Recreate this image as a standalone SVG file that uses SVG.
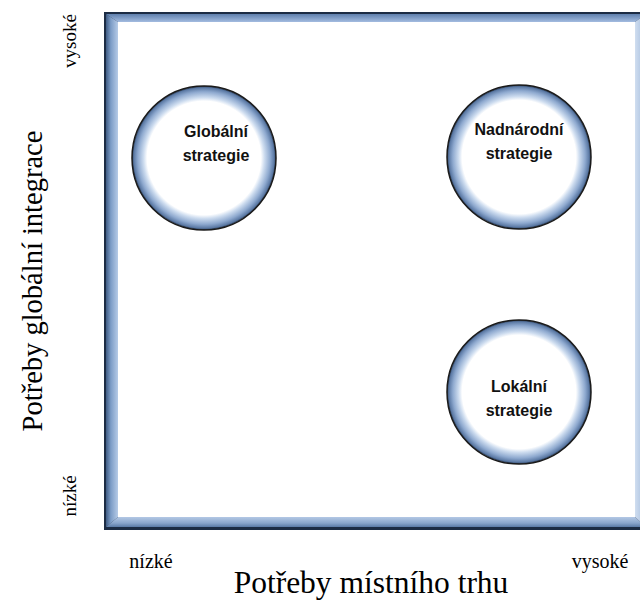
<svg xmlns="http://www.w3.org/2000/svg" width="640" height="600" viewBox="0 0 640 600">
<style>
.ax{font-family:"Liberation Serif","Times New Roman",serif;fill:#000}
.sm{font-size:20px}
.vs{font-size:19px}
.lg{font-size:31.5px}
.vl{font-size:28.5px}
.nl{font-family:"Liberation Sans",Arial,sans-serif;font-weight:bold;font-size:16px;fill:#111;text-anchor:middle}
.ring{fill:url(#ringGrad);stroke:#1a1a1a;stroke-width:1.5}
</style>
<defs>
<radialGradient id="ringGrad" cx="0.5" cy="0.5" r="0.5">
<stop offset="0" stop-color="#ffffff"/>
<stop offset="0.79" stop-color="#ffffff"/>
<stop offset="0.84" stop-color="#cddcef"/>
<stop offset="0.92" stop-color="#8ea9cf"/>
<stop offset="0.975" stop-color="#5b79a4"/>
<stop offset="1" stop-color="#23344e"/>
</radialGradient>
<linearGradient id="gTop" x1="0" y1="0" x2="0" y2="1">
<stop offset="0" stop-color="#5f80ad"/>
<stop offset="1" stop-color="#a3bce0"/>
</linearGradient>
<linearGradient id="gLeft" x1="0" y1="0" x2="1" y2="0">
<stop offset="0" stop-color="#3f5c84"/>
<stop offset="0.4" stop-color="#7c9cc6"/>
<stop offset="1" stop-color="#b6cbe7"/>
</linearGradient>
<linearGradient id="gBot" x1="0" y1="0" x2="0" y2="1">
<stop offset="0" stop-color="#b3c8e5"/>
<stop offset="0.6" stop-color="#8aa6cc"/>
<stop offset="1" stop-color="#5a7aa6"/>
</linearGradient>
<linearGradient id="gRight" x1="0" y1="0" x2="1" y2="0">
<stop offset="0" stop-color="#d0def0"/>
<stop offset="1" stop-color="#9fb8da"/>
</linearGradient>
</defs>
<g id="frame">
<rect x="104" y="12" width="544" height="518" fill="#1c2c44"/>
<polygon points="106,14 646,14 635,22 118,22" fill="url(#gTop)"/>
<polygon points="106,14 118,22 118,517 106,527" fill="url(#gLeft)"/>
<polygon points="106,527 118,517 635,517 646,527" fill="url(#gBot)"/>
<polygon points="635,22 646,14 646,527 635,517" fill="url(#gRight)"/>
<rect x="118" y="22" width="517" height="495" fill="#ffffff"/>
</g>
<g id="node-global">
<circle class="ring" cx="204" cy="158" r="72"/>
<text class="nl" x="216" y="137">Globální</text>
<text class="nl" x="216" y="161">strategie</text>
</g>
<g id="node-nadnarodni">
<circle class="ring" cx="519" cy="157" r="72"/>
<text class="nl" x="519" y="135">Nadnárodní</text>
<text class="nl" x="519" y="159">strategie</text>
</g>
<g id="node-lokalni">
<circle class="ring" cx="519" cy="392" r="72"/>
<text class="nl" x="519" y="392">Lokální</text>
<text class="nl" x="519" y="416">strategie</text>
</g>
<g id="connectors"/>
<g id="axes">
<text class="ax vs" transform="translate(76,41) rotate(-90)" text-anchor="middle">vysoké</text>
<text class="ax vs" transform="translate(76,496) rotate(-90)" text-anchor="middle">nízké</text>
<text class="ax vl" transform="translate(42,281) rotate(-90)" text-anchor="middle">Potřeby globální integrace</text>
<text class="ax sm" x="151" y="568" text-anchor="middle">nízké</text>
<text class="ax sm" x="600" y="568" text-anchor="middle">vysoké</text>
<text class="ax lg" x="371" y="593" text-anchor="middle">Potřeby místního trhu</text>
</g>
</svg>
